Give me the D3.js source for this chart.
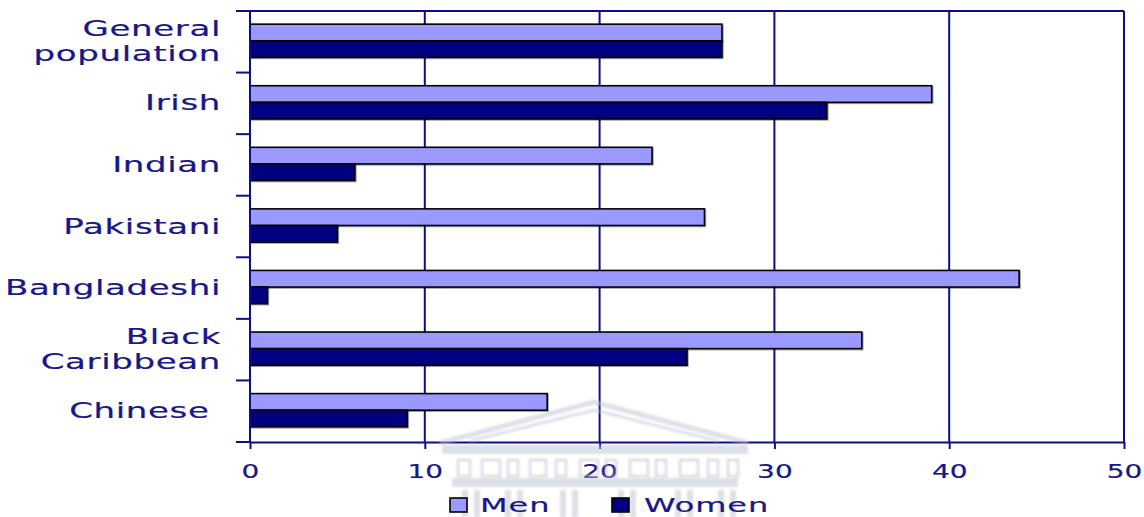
<!DOCTYPE html>
<html>
<head>
<meta charset="utf-8">
<script src="https://cdn.jsdelivr.net/npm/d3@7"></script>
<style>
  html, body { margin: 0; padding: 0; background: #fff; }
  svg { display: block; }
  text { font-family: "DejaVu Sans", Verdana, sans-serif; fill: #17178a; stroke: #17178a; stroke-width: 0.2px; }
</style>
</head>
<body>
<svg id="chart" width="1144" height="517"></svg>
<script>
// Categories (top to bottom) and the two series, in percent
const categories = ["General\npopulation", "Irish", "Indian", "Pakistani", "Bangladeshi", "Black\nCaribbean", "Chinese "];
const men   = [27, 39, 23, 26, 44, 35, 17];
const women = [27, 33, 6, 5, 1, 25, 9];
const seriesNames = ["Men", "Women"];
const xTicks = [0, 10, 20, 30, 40, 50];

const colors = { Men: "#9999ff", Women: "#000080" };
const gridColor = "#0d0d8a";

const svg = d3.select("#chart");
const plot = { left: 250, right: 1124, top: 11, bottom: 442 };

const x = d3.scaleLinear().domain([0, 50]).range([plot.left, plot.right]);
const y = d3.scaleBand().domain(categories).range([plot.top, plot.bottom])
  .paddingInner(0.46).paddingOuter(0.23);
const sub = d3.scaleBand().domain(seriesNames).range([0, y.bandwidth()]);

const rows = categories.map((c, i) => ({ cat: c, Men: men[i], Women: women[i] }));

// vertical gridlines
svg.append("g").selectAll("line").data(xTicks.slice(1)).join("line")
  .attr("x1", d => x(d)).attr("x2", d => x(d))
  .attr("y1", plot.top).attr("y2", plot.bottom)
  .attr("stroke", gridColor).attr("stroke-width", 2);

// top border
svg.append("line").attr("x1", plot.left).attr("x2", plot.right)
  .attr("y1", plot.top).attr("y2", plot.top)
  .attr("stroke", gridColor).attr("stroke-width", 2);

// bars
const barG = svg.append("g");
rows.forEach(r => {
  seriesNames.forEach(s => {
    barG.append("rect")
      .attr("x", x(0))
      .attr("y", y(r.cat) + sub(s) - 1)
      .attr("width", x(r[s]) - x(0))
      .attr("height", sub.bandwidth())
      .attr("fill", colors[s])
      .attr("stroke", "#000")
      .attr("stroke-width", 1.6)
      .attr("style", "filter: drop-shadow(1px 1px 0.6px rgba(0,0,0,0.35))");
  });
});

// x axis
const xAxis = svg.append("g").attr("transform", `translate(0,${plot.bottom})`)
  .call(d3.axisBottom(x).tickValues(xTicks).tickSize(7).tickPadding(10).tickSizeOuter(0));
xAxis.select(".domain").attr("stroke", gridColor).attr("stroke-width", 2);
xAxis.selectAll(".tick line").attr("stroke", gridColor).attr("stroke-width", 2);
xAxis.selectAll(".tick text")
  .attr("font-size", 20)
  .attr("fill", "#17178a")
  .each(function() {
    const t = d3.select(this);
    const yy = +t.attr("y");
    t.attr("y", null).attr("dy", null)
     .attr("transform", `translate(0,${yy + 19}) scale(1.4,1)`);
  });

// y axis line and boundary ticks
const step = y.step();
const boundaries = d3.range(categories.length + 1).map(i => plot.top + i * step);
svg.append("line").attr("x1", plot.left).attr("x2", plot.left)
  .attr("y1", plot.top).attr("y2", plot.bottom)
  .attr("stroke", gridColor).attr("stroke-width", 2);
svg.append("g").selectAll("line").data(boundaries).join("line")
  .attr("x1", plot.left - 14).attr("x2", plot.left)
  .attr("y1", d => d).attr("y2", d => d)
  .attr("stroke", gridColor).attr("stroke-width", 2);

// category labels
const labG = svg.append("g");
categories.forEach(c => {
  const lines = c.split("\n");
  const cy = y(c) + y.bandwidth() / 2;
  const offs = lines.length === 1 ? [7] : [-5.5, 19.5];
  lines.forEach((ln, k) => {
    labG.append("text")
      .attr("transform", `translate(221,${cy + offs[k]}) scale(1.62,1)`)
      .attr("text-anchor", "end")
      .attr("font-size", 21)
      .attr("letter-spacing", 0.4)
      .style("white-space", "pre")
      .text(ln);
  });
});

// faint building emblem in the background
const wmColor = "#bfc2d2";
const wm = svg.append("g").attr("opacity", 0.5).attr("fill", "none").attr("stroke", wmColor)
  .attr("style", "filter: blur(0.8px)");
wm.append("path").attr("d", "M440,443 L594,402 L748,443").attr("stroke-width", 5);
wm.append("path").attr("d", "M470,441 L594,410 L718,441").attr("stroke-width", 3);
wm.append("rect").attr("x", 442).attr("y", 445).attr("width", 306).attr("height", 9)
  .attr("fill", wmColor).attr("stroke", "none");
const panels = [[458, 470], [482, 500], [508, 518], [530, 546], [556, 566], [580, 598],
                [606, 616], [630, 648], [656, 666], [680, 698], [708, 718], [728, 738]];
panels.forEach(p => {
  wm.append("rect").attr("x", p[0]).attr("y", 460).attr("width", p[1] - p[0]).attr("height", 16)
    .attr("stroke-width", 3);
});
wm.append("rect").attr("x", 452).attr("y", 478).attr("width", 286).attr("height", 9)
  .attr("fill", wmColor).attr("stroke", "none");
[462, 474, 505, 517, 560, 572, 618, 630, 675, 687, 718, 730].forEach(cx => {
  wm.append("rect").attr("x", cx).attr("y", 490).attr("width", 6).attr("height", 27)
    .attr("fill", wmColor).attr("stroke", "none");
});

// legend
const legend = svg.append("g");
const legendItems = [
  { name: seriesNames[0], box: 450, text: 480 },
  { name: seriesNames[1], box: 612, text: 644 }
];
legendItems.forEach(it => {
  legend.append("rect").attr("x", it.box).attr("y", 498).attr("width", 17).attr("height", 14)
    .attr("fill", colors[it.name]).attr("stroke", "#000").attr("stroke-width", 1.6);
  legend.append("text")
    .attr("transform", `translate(${it.text},512) scale(1.6,1)`)
    .attr("font-size", 20)
    .attr("letter-spacing", 0.6)
    .text(it.name);
});
</script>
</body>
</html>
